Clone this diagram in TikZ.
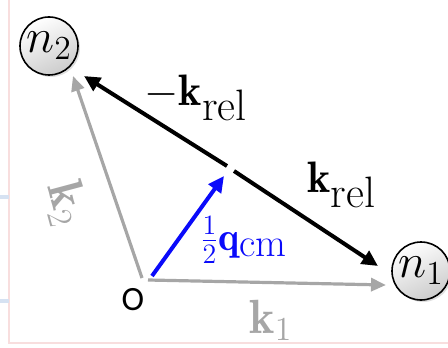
\RequirePackage{fix-cm}
\documentclass[tikz,border=0pt]{standalone}
\usepackage{fontspec}
\newfontfamily\calibri{Carlito}
\usetikzlibrary{arrows.meta,shadows}
\definecolor{vecgray}{RGB}{166,166,166}
\definecolor{vecblue}{RGB}{10,10,250}
\definecolor{framepink}{RGB}{248,222,222}
\definecolor{tickblue}{RGB}{214,226,242}
\begin{document}
\begin{tikzpicture}[x=0.5pt,y=-0.5pt,
  ball/.style={circle,draw=black,line width=0.8pt,minimum size=29pt,inner sep=0pt,
    top color=white,bottom color=gray!40,shading angle=25,
    drop shadow={opacity=0.25,shadow xshift=1pt,shadow yshift=-1pt},
    font=\fontsize{24}{26}\selectfont},
  vec/.style={line width=2pt,-{Triangle[length=8pt,width=7.5pt]}},
  gvec/.style={vecgray,line width=1.6pt,-{Triangle[length=7.5pt,width=6.5pt]}},
  lab/.style={font=\fontsize{22}{24}\selectfont}]
\useasboundingbox (0,0) rectangle (448,347);
\draw[framepink,line width=0.6pt] (9,-5) -- (9,343) -- (455,343);
\foreach \y in {197,301}
  \draw[tickblue,line width=2pt] (0,\y) -- (9,\y);

\node[ball] (n2) at (49,46) {$n_2$};
\node[ball] (n1) at (421,271) {$n_1$};

\coordinate (o) at (146,280);
\coordinate (k1tip) at (386,285);
\coordinate (k2tip) at (73,76);
\coordinate (n2tip) at (84,76);
\coordinate (n1tip) at (378,266);
\coordinate (gapa) at (227,166);
\coordinate (gapb) at (234,171);
\coordinate (qtip) at (224,176);

\draw[gvec] ([xshift=1pt]o) -- (k1tip);
\draw[gvec] ([xshift=-2pt,yshift=1pt]o) -- (k2tip);
\draw[vec] (gapa) -- (n2tip);
\draw[vec] (gapb) -- (n1tip);
\draw[vec,vecblue] ([xshift=3pt,yshift=2pt]o) -- (qtip);

\node[lab] (mrel) at (196,98) {$-\mathbf{k}_{\textstyle\mathrm{rel}}$};
\node[lab] (rel) at (342,185) {$\mathbf{k}_{\textstyle\mathrm{rel}}$};
\node[lab,vecblue,font=\fontsize{20}{22}\selectfont] (qcm) at (244,240) {$\frac{1}{2}\mathbf{q}_{\textstyle\mathrm{cm}}$};
\node[lab,vecgray,font=\fontsize{24}{26}\selectfont] (k1) at (271,320) {$\mathbf{k}_1$};
\node[lab,vecgray,rotate=-75,font=\fontsize{25}{27}\selectfont] (k2) at (66,204) {$\mathbf{k}_2$};
\node[font=\calibri\fontsize{17}{19}\selectfont] (olab) at (133,300) {O};
\end{tikzpicture}
\end{document}
